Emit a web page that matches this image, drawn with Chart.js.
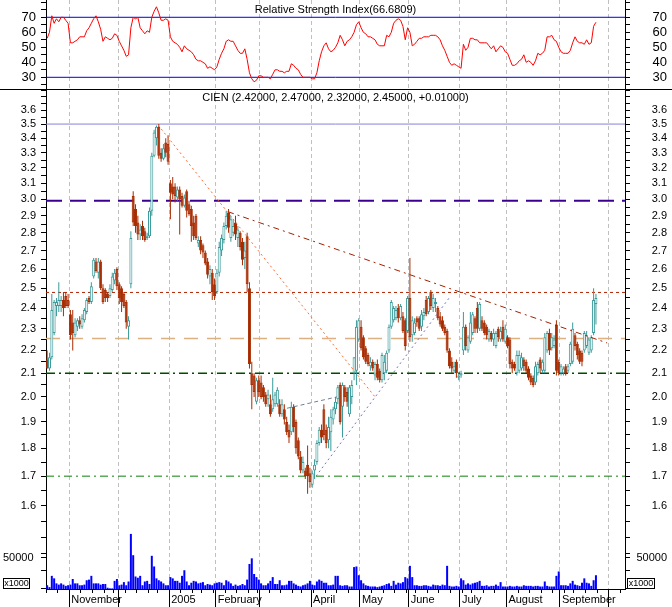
<!DOCTYPE html>
<html>
<head>
<meta charset="utf-8">
<title>CIEN daily</title>
<script src="https://cdn.jsdelivr.net/npm/chart.js@4.4.1/dist/chart.umd.min.js"></script>
<style>
  html, body { margin: 0; padding: 0; background: #fff; }
  canvas { display: block; }
</style>
</head>
<body>
<canvas id="stockChart" width="672" height="607"></canvas>
<script>
// one slot per trading day, Oct 18 2004 .. Oct 11 2005 (data stops Sep 23)
const dayCount = 249;

// first trading day of each month, and the label shown under it
const monthStarts = [10, 31, 53, 73, 92, 114, 135, 156, 178, 198, 221, 242];
const monthLabels = ['November', '', '2005', 'February', '', 'April', 'May', 'June', 'July', 'August', 'September', ''];
// first trading day of each week (small ticks)
const weekStarts = [0, 5, 10, 15, 20, 25, 29, 34, 39, 44, 48, 53, 58, 63, 67, 72, 77, 82, 87, 91, 96, 101, 106, 110,
  115, 120, 125, 130, 135, 140, 145, 150, 155, 159, 164, 169, 174, 179, 183, 188, 193, 198, 203, 208, 213, 218,
  223, 227, 232, 237, 242, 247];

const open = [
  2.16,2.12,2.17,2.28,2.41,2.41,2.41,2.44,2.46,2.44, 2.37,2.33,2.27,2.31,2.34,2.31,2.34,2.38,2.45,2.43,
  2.56,2.64,2.58,2.64,2.50,2.49,2.47,2.46,2.49,2.54, 2.60,2.52,2.50,2.47,2.43,2.31,2.52,3.02,2.94,2.86,
  2.79,2.84,2.81,2.77,2.78,2.93,3.28,3.40,3.48,3.30, 3.26,3.37,3.36,3.10,3.08,3.08,3.01,3.06,3.02,2.96,
  3.05,2.97,2.94,2.86,2.90,2.74,2.76,2.73,2.69,2.64, 2.56,2.58,2.52,2.48,2.58,2.70,2.76,2.84,2.92,2.77,
  2.80,2.86,2.77,2.80,2.75,2.66,2.78,2.50,2.10,2.09, 1.98,2.07,2.06,2.04,2.01,1.99,1.97,1.95,1.97,1.97,
  1.97,1.93,1.95,1.90,1.87,1.86,1.96,1.90,1.83,1.77, 1.72,1.72,1.74,1.71,1.67,1.72,1.75,1.82,1.87,1.95,
  1.87,1.83,1.86,1.91,1.95,1.99,2.05,1.96,2.04,2.02, 1.93,2.00,2.10,2.11,2.25,2.31,2.26,2.21,2.18,2.13,
  2.15,2.09,2.14,2.11,2.07,2.10,2.11,2.20,2.31,2.34, 2.35,2.40,2.35,2.36,2.34,2.29,2.45,2.27,2.28,2.35,
  2.35,2.31,2.36,2.44,2.38,2.48,2.40,2.42,2.40,2.36, 2.34,2.31,2.29,2.20,2.15,2.11,2.15,2.08,2.09,2.20,
  2.31,2.20,2.24,2.28,2.35,2.40,2.30,2.34,2.33,2.31, 2.25,2.28,2.25,2.22,2.30,2.25,2.31,2.24,2.26,2.25,
  2.15,2.14,2.10,2.11,2.12,2.16,2.15,2.12,2.09,2.08, 2.06,2.10,2.16,2.11,2.11,2.20,2.28,2.21,2.22,2.32,
  2.15,2.10,2.10,2.13,2.11,2.14,2.15,2.27,2.23,2.20, 2.19,2.20,2.22,2.19,2.20,2.28,2.42
];
const high = [
  2.20,2.19,2.47,2.44,2.45,2.53,2.46,2.48,2.48,2.47, 2.39,2.39,2.35,2.35,2.36,2.37,2.40,2.45,2.46,2.53,
  2.66,2.66,2.66,2.65,2.52,2.50,2.48,2.52,2.58,2.60, 2.61,2.53,2.51,2.48,2.44,2.36,2.81,3.05,2.97,2.90,
  2.85,2.87,2.83,2.80,2.95,3.30,3.46,3.49,3.50,3.33, 3.36,3.40,3.42,3.12,3.14,3.10,3.08,3.08,3.04,3.03,
  3.06,2.99,2.96,2.90,2.91,2.78,2.78,2.74,2.70,2.66, 2.62,2.60,2.55,2.60,2.75,2.79,2.86,2.93,2.94,2.90,
  2.88,2.90,2.84,2.81,2.77,2.75,2.80,2.53,2.15,2.10, 2.08,2.09,2.09,2.05,2.02,2.03,2.01,2.08,2.02,2.04,
  1.99,1.99,1.97,1.92,1.89,1.98,1.97,1.91,1.84,1.79, 1.77,1.73,1.81,1.73,1.72,1.76,1.83,1.88,1.89,1.97,
  1.89,1.92,1.95,1.96,2.00,2.05,2.06,2.06,2.05,2.04, 2.05,2.07,2.17,2.34,2.35,2.34,2.27,2.22,2.19,2.17,
  2.16,2.15,2.16,2.12,2.19,2.18,2.20,2.32,2.44,2.41, 2.41,2.42,2.42,2.38,2.35,2.46,2.66,2.36,2.35,2.36,
  2.36,2.39,2.40,2.46,2.46,2.49,2.47,2.45,2.41,2.38, 2.36,2.32,2.30,2.21,2.17,2.15,2.16,2.10,2.11,2.38,
  2.32,2.27,2.38,2.38,2.36,2.43,2.43,2.36,2.34,2.32, 2.30,2.29,2.30,2.29,2.31,2.31,2.34,2.32,2.27,2.26,
  2.16,2.15,2.20,2.20,2.19,2.17,2.16,2.13,2.10,2.09, 2.15,2.15,2.17,2.16,2.28,2.29,2.30,2.28,2.27,2.34,
  2.16,2.14,2.13,2.14,2.14,2.24,2.33,2.28,2.24,2.21, 2.20,2.29,2.29,2.26,2.27,2.50,2.47
];
const low = [
  2.12,2.11,2.16,2.27,2.36,2.38,2.38,2.36,2.40,2.40, 2.25,2.20,2.26,2.29,2.30,2.30,2.33,2.37,2.42,2.42,
  2.55,2.58,2.55,2.49,2.42,2.43,2.43,2.45,2.48,2.52, 2.49,2.42,2.38,2.40,2.30,2.25,2.50,2.84,2.80,2.76,
  2.76,2.76,2.75,2.76,2.77,2.90,3.27,3.35,3.26,3.24, 3.25,3.27,3.22,2.88,3.00,2.98,2.99,2.79,2.95,2.95,
  2.89,2.90,2.75,2.76,2.76,2.72,2.68,2.66,2.62,2.55, 2.52,2.44,2.44,2.47,2.56,2.67,2.74,2.82,2.80,2.75,
  2.78,2.76,2.72,2.70,2.62,2.60,2.48,2.12,1.95,2.00, 1.97,2.00,1.99,1.98,1.96,1.96,1.92,1.94,1.96,1.96,
  1.92,1.92,1.89,1.85,1.82,1.85,1.86,1.78,1.76,1.71, 1.71,1.69,1.64,1.66,1.66,1.69,1.74,1.81,1.82,1.83,
  1.80,1.80,1.79,1.89,1.93,1.97,1.89,1.84,1.98,1.96, 1.92,1.97,2.07,2.05,2.24,2.20,2.16,2.14,2.13,2.11,
  2.11,2.07,2.07,2.06,2.06,2.07,2.10,2.19,2.30,2.33, 2.34,2.33,2.34,2.28,2.20,2.28,2.24,2.24,2.27,2.31,
  2.29,2.29,2.34,2.36,2.37,2.39,2.38,2.38,2.34,2.31, 2.29,2.27,2.19,2.12,2.10,2.10,2.08,2.07,2.08,2.18,
  2.20,2.19,2.23,2.27,2.28,2.28,2.29,2.29,2.27,2.25, 2.24,2.24,2.22,2.21,2.24,2.24,2.24,2.23,2.21,2.12,
  2.10,2.11,2.09,2.10,2.11,2.11,2.10,2.07,2.05,2.04, 2.05,2.09,2.10,2.10,2.10,2.19,2.18,2.20,2.21,2.09,
  2.09,2.09,2.09,2.09,2.10,2.13,2.14,2.20,2.16,2.14, 2.13,2.19,2.21,2.18,2.19,2.27,2.32
];
const close = [
  2.12,2.17,2.39,2.43,2.43,2.44,2.44,2.40,2.41,2.41, 2.27,2.28,2.33,2.34,2.32,2.35,2.39,2.44,2.43,2.51,
  2.65,2.59,2.64,2.50,2.43,2.45,2.45,2.50,2.56,2.58, 2.51,2.45,2.43,2.41,2.33,2.34,2.77,2.86,2.84,2.79,
  2.82,2.78,2.76,2.78,2.93,3.28,3.44,3.48,3.28,3.26, 3.33,3.30,3.24,3.04,3.03,3.02,3.06,3.00,2.96,3.01,
  2.93,2.91,2.84,2.78,2.77,2.76,2.70,2.69,2.63,2.57, 2.60,2.48,2.46,2.58,2.72,2.77,2.84,2.90,2.83,2.88,
  2.84,2.79,2.82,2.72,2.65,2.70,2.52,2.14,2.05,2.02, 2.07,2.02,2.00,2.00,1.97,2.01,1.93,1.99,2.01,2.03,
  1.93,1.97,1.91,1.86,1.84,1.96,1.88,1.80,1.77,1.72, 1.75,1.70,1.70,1.68,1.71,1.74,1.82,1.87,1.84,1.85,
  1.82,1.88,1.92,1.95,1.98,2.04,1.90,2.05,2.00,1.98, 2.04,2.05,2.17,2.31,2.34,2.21,2.17,2.15,2.14,2.15,
  2.12,2.14,2.08,2.07,2.18,2.15,2.19,2.31,2.43,2.40, 2.39,2.35,2.41,2.29,2.22,2.45,2.26,2.34,2.33,2.33,
  2.30,2.37,2.38,2.37,2.45,2.41,2.45,2.43,2.35,2.32, 2.30,2.28,2.20,2.13,2.12,2.13,2.10,2.09,2.10,2.31,
  2.22,2.26,2.33,2.37,2.30,2.30,2.42,2.30,2.28,2.27, 2.29,2.25,2.28,2.28,2.26,2.29,2.25,2.30,2.22,2.14,
  2.12,2.12,2.18,2.18,2.17,2.13,2.11,2.08,2.06,2.05, 2.13,2.14,2.12,2.15,2.26,2.28,2.20,2.26,2.25,2.11,
  2.10,2.13,2.12,2.10,2.13,2.23,2.30,2.22,2.18,2.15, 2.15,2.28,2.27,2.25,2.26,2.44,2.45
];
// shares x1000
const volume = [
  6000,3000,21000,17000,9000,7000,9000,7000,5000,6000, 7000,16000,9000,9000,6000,6000,7000,14000,15000,21000,
  9000,9000,9000,7000,8000,8000,2000,1000,1000,13000, 16000,6000,7000,11000,6000,12000,88000,54000,20000,18000,
  21000,6000,12000,13000,8000,53000,36000,17000,14000,12000, 9000,6000,6000,19000,17000,13000,13000,10000,21000,30000,
  12000,6000,10000,13000,12000,9000,10000,11000,6000,8000, 7000,6000,9000,10000,11000,10000,6000,14000,12000,9000,
  5000,7000,5000,6000,8000,6000,15000,40000,49000,24000, 19000,15000,9000,6000,6000,9000,13000,19000,8000,8000,
  14000,6000,6000,7000,13000,13000,9000,7000,5000,4000, 6000,7000,9000,13000,7000,6000,12000,15000,13000,10000,
  10000,6000,6000,7000,21000,21000,6000,5000,6000,6000, 4000,4000,35000,36000,22000,14000,9000,6000,5000,4000,
  4000,4000,3000,4000,5000,6000,8000,9000,5000,13000, 7000,10000,9000,11000,19000,17000,37000,19000,6000,6000,
  5000,5000,6000,6000,5000,4000,7000,6000,6000,5000, 7000,6000,37000,5000,4000,4000,5000,4000,17000,14000,
  7000,9000,7000,9000,10000,11000,13000,5000,5000,6000, 4000,5000,5000,7000,5000,11000,4000,4000,4000,5000,
  4000,4000,5000,4000,4000,6000,5000,5000,5000,4000, 5000,5000,4000,4000,12000,5000,4000,4000,4000,21000,
  28000,6000,6000,6000,5000,9000,13000,7000,6000,5000, 10000,17000,10000,9000,5000,14000,22000
];
const rsi = [
  56,60,71,66,69,67,70,70,68,66, 53,53,54,55,57,57,57,61,63,66,
  69,71,67,62,54,57,56,55,56,59, 58,54,51,48,44,45,63,70,69,70,
  63,61,59,61,60,70,74,77,73,68, 68,69,68,57,54,53,52,50,47,51,
  49,48,47,45,42,41,41,40,39,36, 37,36,35,37,42,46,49,54,55,54,
  54,51,48,46,46,49,42,33,29,27, 28,31,31,30,30,30,29,32,35,35,
  34,34,33,34,34,39,38,36,35,32, 30,30,30,30,29,29,33,41,47,51,
  53,49,47,48,50,53,58,55,51,54, 55,57,60,65,67,63,60,59,57,57,
  56,55,52,51,51,51,58,57,60,66, 68,69,68,64,55,63,60,51,52,54,
  56,56,57,57,57,58,58,58,57,55, 51,48,44,40,38,39,38,37,36,52,
  48,50,56,56,55,55,53,53,53,53, 51,49,51,47,49,51,50,47,46,42,
  38,38,39,41,42,45,40,41,40,38, 41,46,45,46,48,57,57,58,55,54,
  50,47,46,46,46,48,53,57,54,53, 53,52,55,52,53,64,66.68
];

const rsiTitle = 'Relative Strength Index(66.6809)';
const priceTitle = 'CIEN (2.42000, 2.47000, 2.32000, 2.45000, +0.01000)';

const rsiLevels = [30, 70];
const rsiTicks = [25, 30, 35, 40, 45, 50, 55, 60, 65, 70, 75, 80];
const rsiLabels = [30, 40, 50, 60, 70];
const priceLabels = [1.6, 1.7, 1.8, 1.9, 2.0, 2.1, 2.2, 2.3, 2.4, 2.5, 2.6, 2.7, 2.8, 2.9, 3.0, 3.1, 3.2, 3.3, 3.4, 3.5, 3.6];
const volumeTicks = [50000];

// horizontal studies drawn on the price panel
const priceLevels = [3.5, 2.99, 2.478, 2.255, 2.1, 1.7];
// trend lines: [startDay, startPrice, endDay, endPrice]
const fanLine = [47.7, 3.493, 141, 2.0];
const resistanceLine = [77.8, 2.924, 240.8, 2.234];
const supportLine = [115.6, 1.70, 173.2, 2.455];
const shortLine = [103.1, 1.954, 124.6, 2.0];

// ---- styles ----
const upColor = '#3a9a9a';
const downColor = '#a82c00';
const levelColors = ['#8484d8', '#3c0090', '#b02000', '#dcb080', '#004c00', '#0a800a'];
const levelWidths = [1, 2, 1, 1.5, 1.5, 1];
const levelDashes = [[], [16, 8], [3, 3], [14, 9], [9, 4, 2, 4], [8, 4, 2, 4]];
const tickFont = { family: '"Liberation Sans", Arial, sans-serif', size: 11 };
const rsiFont = { family: '"Liberation Sans", Arial, sans-serif', size: 13 };

const xMin = -0.5;
const xMax = dayCount - 0.5;

let priceTicks = [];
for (let v = 135; v <= 375; v += 5) priceTicks.push(v / 100);

const candleColor = close.map((c, i) => c >= open[i] ? upColor : downColor);

function flatLine(v) {
  return [{ x: xMin, y: v }, { x: xMax, y: v }];
}
function segment(t) {
  return [{ x: t[0], y: t[1] }, { x: t[2], y: t[3] }];
}
function lineSet(axis, data, color, width, dash, order) {
  return {
    type: 'line', yAxisID: axis, data: data,
    borderColor: color, borderWidth: width, borderDash: dash,
    pointRadius: 0, tension: 0, order: order
  };
}
// keep the plot area fixed: no extra room for overhanging labels
function noPadding(s) {
  s.paddingTop = 0; s.paddingBottom = 0; s.paddingLeft = 0; s.paddingRight = 0;
}

const datasets = [];
rsiLevels.forEach(v => datasets.push(lineSet('rsi', flatLine(v), '#0000dd', 1, [], 10)));
datasets.push(lineSet('rsi', rsi.map((v, i) => ({ x: i, y: v })), '#ff0000', 1, [], 1));
priceLevels.forEach((v, k) => datasets.push(lineSet('price', flatLine(v), levelColors[k], levelWidths[k], levelDashes[k], 10)));

datasets.push({
  type: 'bar', yAxisID: 'vol',
  data: volume.map((v, i) => ({ x: i, y: v })),
  backgroundColor: '#0000ff', barThickness: 2, grouped: false, inflateAmount: 0, order: 9
});
// wicks
datasets.push({
  type: 'bar', yAxisID: 'price',
  data: low.map((l, i) => ({ x: i, y: [l, high[i]] })),
  backgroundColor: candleColor, barThickness: 1, grouped: false, inflateAmount: 0, order: 5
});
// bodies: red filled when down, teal outline when up
datasets.push({
  type: 'bar', yAxisID: 'price',
  data: open.map((o, i) => ({ x: i, y: [o, close[i]] })),
  backgroundColor: close.map((c, i) => c >= open[i] ? '#ffffff' : downColor),
  borderColor: candleColor, borderWidth: 1, borderSkipped: false,
  barThickness: 3, grouped: false, inflateAmount: 0, order: 4
});

datasets.push(lineSet('price', segment(fanLine), '#ff6a30', 1, [2, 3], 2));
datasets.push(lineSet('price', segment(resistanceLine), '#a02000', 1, [6, 4, 2, 4], 2));
datasets.push(lineSet('price', segment(supportLine), '#7474c8', 1, [2, 3], 2));
datasets.push(lineSet('price', segment(shortLine), '#708090', 1, [4, 3], 2));

function yAxis(position, stackName, weight, stackWeight, extra) {
  return Object.assign({
    position: position, stack: stackName, stackWeight: stackWeight, weight: weight, bounds: 'data',
    afterFit: s => { s.width = position === 'left' ? 46 : 42; noPadding(s); },
    grid: { drawOnChartArea: false, tickLength: 5, tickColor: '#000', color: '#000' },
    border: { color: '#000' }
  }, extra);
}

function rsiAxis(position, weight) {
  return yAxis(position, position, weight, 89, {
    type: 'linear', min: 22.2, max: 81.53, beginAtZero: false,
    afterBuildTicks: s => { s.ticks = rsiTicks.map(v => ({ value: v })); },
    ticks: {
      autoSkip: false, padding: 5, color: '#000', font: rsiFont,
      crossAlign: position === 'left' ? 'near' : 'far',
      callback: v => rsiLabels.includes(v) ? String(v) : ''
    }
  });
}

function priceAxis(position, weight) {
  return yAxis(position, position, weight, 500, {
    type: 'logarithmic', min: 1.3488, max: 3.761,
    afterBuildTicks: s => { s.ticks = priceTicks.map(v => ({ value: v })); },
    ticks: {
      autoSkip: false, padding: 5, color: '#000', font: tickFont,
      crossAlign: position === 'left' ? 'near' : 'far',
      callback: v => priceLabels.some(p => Math.abs(p - v) < 1e-6) ? v.toFixed(1) : ''
    }
  });
}

// zero-width volume scales; mirrored labels so they are not clipped to the empty box
function volAxis(position) {
  return {
    type: 'linear', position: position, weight: 0, min: 0, max: 940900, bounds: 'data',
    afterFit: s => { s.width = 0; noPadding(s); },
    afterBuildTicks: s => { s.ticks = volumeTicks.map(v => ({ value: v })); },
    ticks: { autoSkip: false, mirror: true, padding: position === 'left' ? -43 : 42, color: '#000', font: tickFont, callback: v => String(v) },
    grid: { drawOnChartArea: false, tickLength: 5, tickColor: '#000' },
    border: { display: false }
  };
}

const panelDecor = {
  id: 'panelDecor',
  afterDraw(chart) {
    const ctx = chart.ctx;
    const area = chart.chartArea;
    const split = chart.scales.rsi.bottom;
    const cx = (area.left + area.right) / 2;
    ctx.save();
    ctx.strokeStyle = '#000';
    ctx.lineWidth = 1;
    ctx.beginPath();
    ctx.moveTo(0, split + 0.5);
    ctx.lineTo(chart.width, split + 0.5);
    ctx.stroke();

    ctx.fillStyle = '#000';
    ctx.font = '11px "Liberation Sans", Arial, sans-serif';
    ctx.textAlign = 'center';
    ctx.textBaseline = 'middle';
    ctx.fillText(rsiTitle, cx, 10);
    ctx.fillText(priceTitle, cx, split + 9);

    // "x1000" unit boxes next to the volume scale
    ctx.font = '9px "Liberation Sans", Arial, sans-serif';
    const boxTop = area.bottom - 11;
    [[3, 26], [chart.width - 45, 27]].forEach(b => {
      ctx.strokeRect(b[0] + 0.5, boxTop + 0.5, b[1], 10);
      ctx.fillText('x1000', b[0] + b[1] / 2 + 0.5, boxTop + 6);
    });
    ctx.restore();
  }
};

new Chart(document.getElementById('stockChart').getContext('2d'), {
  type: 'bar',
  data: { datasets: datasets },
  options: {
    responsive: false,
    maintainAspectRatio: false,
    devicePixelRatio: 1,
    animation: false,
    events: [],
    layout: { padding: { left: 0, right: 5, top: 0, bottom: 0 } },
    plugins: { legend: { display: false }, tooltip: { enabled: false } },
    scales: {
      x: {
        type: 'linear', position: 'bottom', weight: 1, min: xMin, max: xMax, offset: false, bounds: 'data',
        afterBuildTicks: s => { s.ticks = monthStarts.map(d => ({ value: d - 0.5 })); },
        afterFit: s => { s.height = 18; noPadding(s); },
        ticks: {
          autoSkip: false, maxRotation: 0, align: 'start', labelOffset: 2, padding: -14,
          color: '#000', font: tickFont,
          callback: (v, i) => monthLabels[i]
        },
        grid: { offset: false, color: '#c0c0c0', tickColor: '#000', tickLength: 18 },
        border: { color: '#000', dash: [4, 3] }
      },
      xw: {
        type: 'linear', axis: 'x', position: 'bottom', weight: 0, min: xMin, max: xMax, offset: false, bounds: 'data',
        afterBuildTicks: s => { s.ticks = weekStarts.map(d => ({ value: d - 0.5 })); },
        afterFit: s => { s.height = 0; noPadding(s); },
        ticks: { display: false, autoSkip: false },
        grid: { offset: false, drawOnChartArea: false, tickLength: 4, tickColor: '#000', color: '#000' },
        border: { display: false }
      },
      rsi: rsiAxis('left', 3),
      price: priceAxis('left', 2),
      vol: volAxis('left'),
      volR: volAxis('right'),
      rsiR: rsiAxis('right', 2),
      priceR: priceAxis('right', 3)
    }
  },
  plugins: [panelDecor]
});
</script>
</body>
</html>
